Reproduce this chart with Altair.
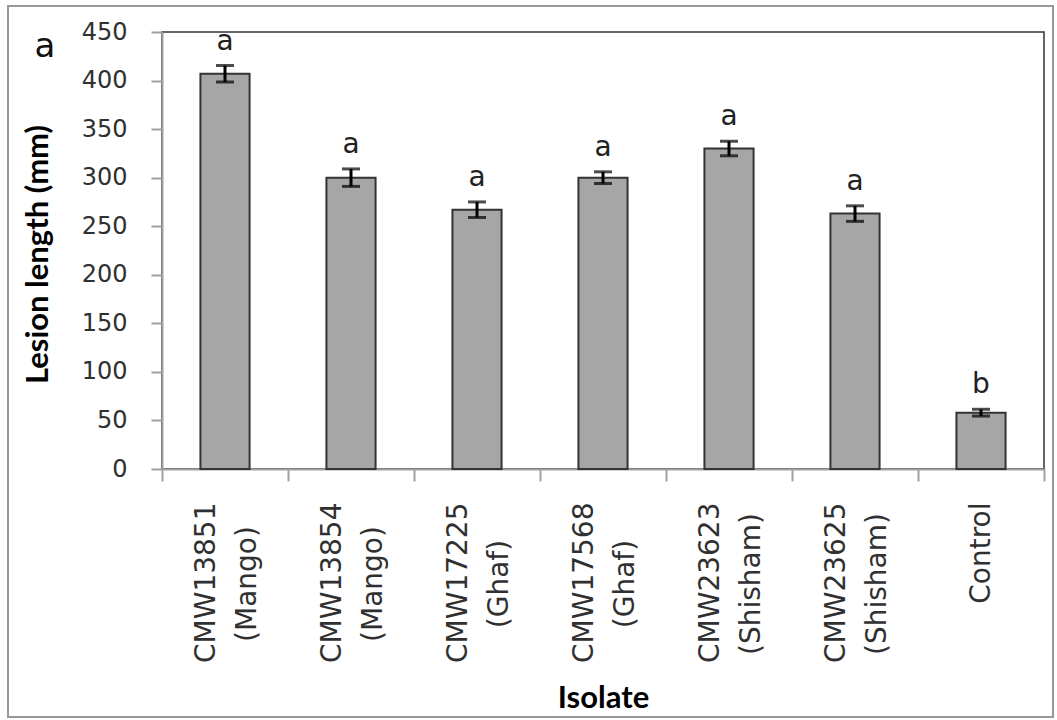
import altair as alt
import pandas as pd

# Lesion length per isolate (mean, standard error) with significance letters
isolates = ["CMW13851", "CMW13854", "CMW17225", "CMW17568", "CMW23623", "CMW23625", "Control"]
hosts = ["(Mango)", "(Mango)", "(Ghaf)", "(Ghaf)", "(Shisham)", "(Shisham)", ""]
means = [407, 300, 267, 300, 330, 263, 58]
errors = [8.5, 9, 8, 6, 7.5, 8, 3.5]
letters = ["a", "a", "a", "a", "a", "a", "b"]
y_ticks = [0, 50, 100, 150, 200, 250, 300, 350, 400, 450]
panel_label = "a"

df = pd.DataFrame({
    "isolate": isolates,
    "host": hosts,
    "mean": means,
    "err": errors,
    "letter": letters,
})
df["lo"] = df["mean"] - df["err"]
df["hi"] = df["mean"] + df["err"]

W, H = 882, 437
AXIS_GREY = "#A0A0A0"
TEXT = "#303030"

x_enc = alt.X(
    "isolate:N",
    sort=isolates,
    scale=alt.Scale(paddingInner=0, paddingOuter=0),
    axis=alt.Axis(
        title="Isolate",
        labelAngle=270,
        labelAlign="right",
        labelBaseline="middle",
        labelFont="DejaVu Sans",
        labelFontSize=28,
        labelColor=TEXT,
        labelPadding=21,
        labelLimit=400,
        labelOverlap=False,
        labelOffset={"condition": {"test": "datum.value === 'Control'", "value": 0}, "value": -19},
        tickBand="extent",
        tickSize=12,
        tickWidth=2,
        tickColor=AXIS_GREY,
        domainColor=AXIS_GREY,
        domainWidth=2,
        titleFont="Lato",
        titleFontWeight="bold",
        titleFontSize=31,
        titleColor="#000000",
        titleBaseline="alphabetic",
        titleY=238,
        titleX=W / 2,
        titleAlign="center",
    ),
)


def y_enc(field):
    return alt.Y(
        field,
        scale=alt.Scale(domain=[0, 450], nice=False),
        axis=alt.Axis(
            title="Lesion length (mm)",
            values=y_ticks,
            grid=False,
            labelFont="DejaVu Sans",
            labelFontSize=24,
            labelColor=TEXT,
            labelPadding=24,
            tickSize=11,
            tickWidth=2,
            tickColor=AXIS_GREY,
            domainColor=AXIS_GREY,
            domainWidth=2,
            titleFont="Lato",
            titleFontWeight="bold",
            titleFontSize=31,
            titleColor="#000000",
            titleAngle=270,
            titleAlign="center",
            titleBaseline="alphabetic",
            titleX=-115,
            titleY=222,
        ),
    )


base = alt.Chart(df)

bars = base.mark_bar(
    width=alt.RelativeBandSize(0.39), fill="#A6A6A6", stroke="#333333", strokeWidth=2
).encode(x=x_enc, y=y_enc("mean:Q"))

whiskers = base.mark_rule(color="#000000", strokeWidth=3).encode(
    x=x_enc, y=y_enc("lo:Q"), y2="hi:Q"
)
cap_hi = base.mark_tick(color="#000000", thickness=3, size=18).encode(x=x_enc, y=y_enc("hi:Q"))
cap_lo = base.mark_tick(color="#000000", thickness=3, size=18).encode(x=x_enc, y=y_enc("lo:Q"))

letter_text = base.mark_text(
    font="DejaVu Sans", fontSize=28, color="#222222", baseline="alphabetic", dy=-16
).encode(x=x_enc, y=y_enc("hi:Q"), text="letter:N")

# second line of each category label (host plant), centred under the isolate code
host_text = base.mark_text(
    font="DejaVu Sans", fontSize=28, color=TEXT, angle=270, align="center",
    baseline="middle", dy=23
).encode(x=x_enc, y=alt.value(H + 115), text="host:N")

frame = alt.Chart(alt.Data(values=[{}])).mark_rect(
    fill="transparent", stroke="#999999", strokeWidth=2
).encode(x=alt.value(-154), x2=alt.value(891), y=alt.value(-26), y2=alt.value(685))

panel = alt.Chart(alt.Data(values=[{"t": panel_label}])).mark_text(
    font="DejaVu Sans", fontSize=34, color="#111111", align="center", baseline="alphabetic"
).encode(x=alt.value(-117), y=alt.value(25), text="t:N")

chart = alt.layer(
    bars, whiskers, cap_hi, cap_lo, letter_text, host_text, frame, panel
).properties(
    width=W,
    height=H,
    padding={"left": 162, "top": 32, "right": 13, "bottom": 251},
    autosize=alt.AutoSizeParams(type="none"),
    background="white",
).configure_view(stroke="#333333", strokeWidth=1.5)

chart.save("out.html", embed_options={"renderer": "svg", "actions": False})
